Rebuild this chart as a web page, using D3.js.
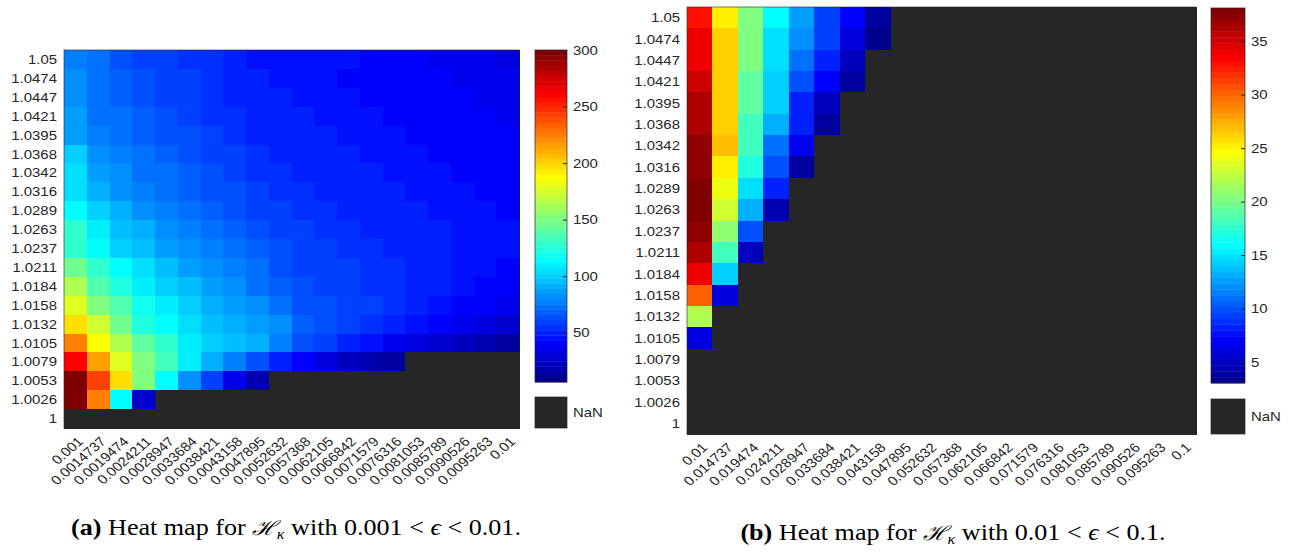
<!DOCTYPE html>
<html>
<head>
<meta charset="utf-8">
<script src="https://cdn.jsdelivr.net/npm/d3@7"></script>
<style>
  body { margin: 0; background: #fff; }
  text { fill: #262626; }
</style>
</head>
<body>
<svg id="fig" width="1290" height="555"></svg>
<script>
// kappa values, listed from the top row down
const rowLabels = ["1.05","1.0474","1.0447","1.0421","1.0395","1.0368","1.0342","1.0316","1.0289","1.0263",
                   "1.0237","1.0211","1.0184","1.0158","1.0132","1.0105","1.0079","1.0053","1.0026","1"];

// epsilon values for each panel
const colLabelsA = ["0.001","0.0014737","0.0019474","0.0024211","0.0028947","0.0033684","0.0038421","0.0043158",
                    "0.0047895","0.0052632","0.0057368","0.0062105","0.0066842","0.0071579","0.0076316","0.0081053",
                    "0.0085789","0.0090526","0.0095263","0.01"];
const colLabelsB = ["0.01","0.014737","0.019474","0.024211","0.028947","0.033684","0.038421","0.043158",
                    "0.047895","0.052632","0.057368","0.062105","0.066842","0.071579","0.076316","0.081053",
                    "0.085789","0.090526","0.095263","0.1"];

// Panel (a): one row per kappa (top to bottom); cells past the end of a row are NaN
const valuesA = [
  [78,72,66,61,58,56,54,50,47,45,45,44,44,43,40,39,38,38,37,33],
  [80,74,68,66,61,58,54,51,49,47,46,45,43,42,42,40,39,38,38,37],
  [83,74,70,66,61,58,55,52,49,48,47,46,45,43,42,42,40,39,38,38],
  [85,75,72,68,64,59,55,54,51,48,48,47,46,44,43,42,42,40,39,38],
  [88,78,75,70,66,62,58,56,52,51,49,48,47,46,44,43,42,42,40,39],
  [100,81,77,72,68,66,61,58,54,52,50,49,48,47,46,44,43,42,42,40],
  [103,87,81,75,71,67,63,61,56,54,51,50,49,48,47,46,44,43,42,42],
  [107,90,84,78,74,70,66,62,59,56,53,51,50,49,48,47,46,44,43,42],
  [115,102,91,84,78,72,70,66,61,58,55,53,51,50,49,48,47,46,44,43],
  [126,110,98,91,84,78,74,70,66,61,57,55,53,51,50,49,48,47,45,44],
  [130,112,102,97,89,84,78,74,70,64,59,57,55,53,51,50,49,47,46,44],
  [146,126,115,105,95,89,82,78,72,66,61,59,57,55,53,51,49,47,45,43],
  [165,135,125,108,102,94,87,81,75,70,63,61,58,56,54,51,49,46,43,40],
  [177,152,135,120,108,102,92,87,81,74,66,63,60,57,54,50,46,43,39,36],
  [198,172,147,125,115,105,98,92,87,80,68,64,59,54,49,44,40,36,31,27],
  [224,188,166,143,128,110,102,97,91,78,64,60,52,45,38,32,27,22,18,14],
  [262,215,180,152,131,111,90,78,63,51,41,30,23,17,12],
  [298,242,197,152,115,84,58,37,19],
  [300,224,115,28],
  []
];

// Panel (b)
const valuesB = [
  [32.9,25.5,20.3,15.9,12.4,9.5,7.3,3.6],
  [34.2,26.3,20.3,14.8,12.0,9.5,6.0,3.3],
  [34.2,26.3,20.3,14.8,11.0,8.2,5.0],
  [35.1,26.3,19.2,14.0,10.0,7.1,4.0],
  [36.4,26.3,19.2,14.0,8.3,5.0],
  [36.4,26.3,18.1,13.2,8.0,3.6],
  [37.3,26.7,18.1,11.0,6.5],
  [37.3,25.2,17.0,10.0,4.0],
  [37.9,24.1,14.8,8.0],
  [37.9,23.0,13.2,4.6],
  [37.3,20.8,9.9],
  [36.4,18.1,5.0],
  [34.2,14.3],
  [30.2,6.0],
  [21.9],
  [6.0],
  [],[],[],[]
];

// colour limits and colourbar ticks
const climA = [6.5, 300];
const climB = [3.04, 38.1];
const cbTicksA = [50,100,150,200,250,300];
const cbTicksB = [5,10,15,20,25,30,35];

// 64-step jet colormap
function jetColor(i) {           // i = 1..64
  const r = i <= 24 ? 0 : i <= 40 ? (i - 24) / 16 : i <= 56 ? 1 : 1 - (i - 56) / 16;
  const g = i <= 8 ? 0 : i <= 24 ? (i - 8) / 16 : i <= 40 ? 1 : i <= 55 ? (56 - i) / 16 : 0;
  const b = i <= 8 ? (i + 8) / 16 : i <= 24 ? 1 : i <= 39 ? (40 - i) / 16 : 0;
  return d3.rgb(Math.round(r * 255), Math.round(g * 255), Math.round(b * 255)).toString();
}
const jet = d3.range(1, 65).map(jetColor);
const nanColor = "#262626";

function makeColor(clim) {
  const q = d3.scaleQuantize().domain(clim).range(jet);
  return v => (v == null || isNaN(v)) ? nanColor : q(Math.max(clim[0], Math.min(clim[1], v)));
}

const svg = d3.select("#fig");
const tickFont = "'Liberation Sans', Arial, Helvetica, sans-serif";
const SX = 1.15;          // horizontal stretch applied to all lettering
const tickSize = "13px";

function drawPanel(cfg) {
  const { values, cols, clim, ticks, map, cbar, nanBox, caption } = cfg;
  const g = svg.append("g");
  const x = d3.scaleBand().domain(cols).range([map.x0, map.x1]);
  const y = d3.scaleBand().domain(rowLabels).range([map.y0, map.y1]);
  const color = makeColor(clim);

  const cells = [];
  rowLabels.forEach((rl, ri) => {
    cols.forEach((cl, ci) => {
      const v = values[ri][ci];
      cells.push({ row: rl, col: cl, v: v === undefined ? null : v });
    });
  });

  g.append("g").selectAll("rect").data(cells).join("rect")
    .attr("x", d => x(d.col))
    .attr("y", d => y(d.row))
    .attr("width", x.bandwidth() + 0.5)
    .attr("height", y.bandwidth() + 0.5)
    .attr("fill", d => color(d.v))
    .attr("shape-rendering", "crispEdges");

  // frame
  g.append("rect")
    .attr("x", map.x0).attr("y", map.y0)
    .attr("width", map.x1 - map.x0).attr("height", map.y1 - map.y0)
    .attr("fill", "none").attr("stroke", "#262626").attr("stroke-width", 1)
    .attr("stroke-opacity", 0.6);

  // row labels
  g.append("g").selectAll("text").data(rowLabels).join("text")
    .attr("transform", d => `translate(${map.x0 - 7},${y(d) + y.bandwidth() / 2}) scale(${SX},1)`)
    .attr("text-anchor", "end")
    .attr("dominant-baseline", "central")
    .style("font-family", tickFont).style("font-size", tickSize)
    .text(d => d);

  // column labels, rotated
  g.append("g").selectAll("text").data(cols).join("text")
    .attr("transform", d => `translate(${x(d) + x.bandwidth() / 2 + 5},${map.y1 + 11}) scale(${SX},1) rotate(-45)`)
    .attr("text-anchor", "end")
    .attr("dominant-baseline", "central")
    .style("font-family", tickFont).style("font-size", tickSize)
    .text(d => d);

  // colourbar
  const cy = d3.scaleLinear().domain(clim).range([cbar.y1, cbar.y0]);
  const steps = d3.range(64);
  const stepH = (cbar.y1 - cbar.y0) / 64;
  g.append("g").selectAll("rect").data(steps).join("rect")
    .attr("x", cbar.x0)
    .attr("y", i => cy(clim[0] + (i + 1) * (clim[1] - clim[0]) / 64))
    .attr("width", cbar.x1 - cbar.x0)
    .attr("height", stepH + 0.4)
    .attr("fill", i => jet[i]);
  g.append("rect")
    .attr("x", cbar.x0).attr("y", cbar.y0)
    .attr("width", cbar.x1 - cbar.x0).attr("height", cbar.y1 - cbar.y0)
    .attr("fill", "none").attr("stroke", "#262626").attr("stroke-width", 1)
    .attr("stroke-opacity", 0.7);

  const axis = d3.axisRight(cy).tickValues(ticks).tickSize(-4).tickPadding(0);
  const ax = g.append("g").attr("transform", `translate(${cbar.x1},0)`).call(axis);
  ax.select(".domain").remove();
  ax.selectAll(".tick line").attr("stroke", "#262626");
  ax.selectAll(".tick text")
    .attr("x", null)
    .attr("transform", `translate(6,0) scale(${SX},1)`)
    .style("font-family", tickFont).style("font-size", tickSize).attr("fill", "#262626");

  // NaN swatch
  g.append("rect")
    .attr("x", cbar.x0).attr("y", nanBox.y0)
    .attr("width", cbar.x1 - cbar.x0).attr("height", nanBox.y1 - nanBox.y0)
    .attr("fill", nanColor).attr("stroke", "#262626").attr("stroke-opacity", 0.7);
  g.append("text")
    .attr("transform", `translate(${cbar.x1 + 6},${(nanBox.y0 + nanBox.y1) / 2}) scale(${SX},1)`)
    .attr("dominant-baseline", "central")
    .style("font-family", tickFont).style("font-size", tickSize)
    .text("NaN");

  // caption
  const t = svg.append("text")
    .attr("transform", `translate(${caption.x},${caption.y}) scale(${SX},1)`)
    .attr("text-anchor", "middle")
    .style("font-family", "'Liberation Serif', 'Times New Roman', serif")
    .style("font-size", "22.7px")
    .attr("fill", "#000");
  t.append("tspan").style("font-weight", "bold").text(caption.tag);
  t.append("tspan").text(" Heat map for ");
  t.append("tspan").style("font-family", "'DejaVu Serif', serif").style("font-style", "italic")
    .style("font-size", "20px").text("\u210B");
  t.append("tspan").attr("dy", 4).style("font-size", "14px").style("font-style", "italic").text("\u03BA");
  t.append("tspan").attr("dy", -4).text(" with " + caption.lo + " < ");
  t.append("tspan").style("font-style", "italic").text("\u03F5");
  t.append("tspan").text(" < " + caption.hi + ".");
  t.selectAll("tspan").attr("fill", "#000");
}

drawPanel({
  values: valuesA, cols: colLabelsA, clim: climA, ticks: cbTicksA,
  map: { x0: 64, x1: 519, y0: 50, y1: 428 },
  cbar: { x0: 535, x1: 567, y0: 50, y1: 382 },
  nanBox: { y0: 397, y1: 428 },
  caption: { x: 296, y: 535, tag: "(a)", lo: "0.001", hi: "0.01" }
});

drawPanel({
  values: valuesB, cols: colLabelsB, clim: climB, ticks: cbTicksB,
  map: { x0: 687, x1: 1196, y0: 7, y1: 434 },
  cbar: { x0: 1211, x1: 1245, y0: 8, y1: 383 },
  nanBox: { y0: 399, y1: 434 },
  caption: { x: 953, y: 540, tag: "(b)", lo: "0.01", hi: "0.1" }
});
</script>
</body>
</html>
